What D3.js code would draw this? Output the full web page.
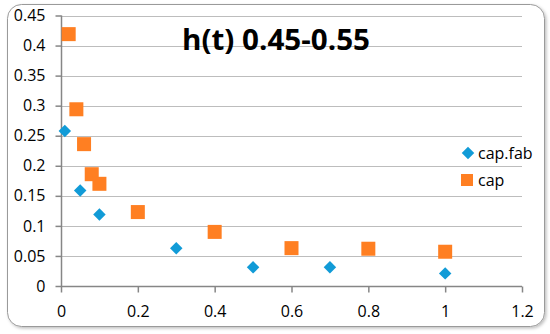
<!DOCTYPE html>
<html>
<head>
<meta charset="utf-8">
<script src="https://cdn.jsdelivr.net/npm/d3@7"></script>
<style>
  body { margin: 0; background: #fff; }
  text { font-family: "Open Sans", sans-serif; }
</style>
</head>
<body>
<div id="chart"></div>
<script>
// values
var fabX = [0.01, 0.05, 0.1, 0.3, 0.5, 0.7, 1.0];
var fabY = [0.258, 0.159, 0.119, 0.063, 0.031, 0.031, 0.021];
var capX = [0.02, 0.04, 0.06, 0.08, 0.1, 0.2, 0.4, 0.6, 0.8, 1.0];
var capY = [0.419, 0.294, 0.236, 0.186, 0.170, 0.123, 0.090, 0.063, 0.062, 0.057];
var xTicks = [0, 0.2, 0.4, 0.6, 0.8, 1, 1.2];
var yTicks = [0, 0.05, 0.1, 0.15, 0.2, 0.25, 0.3, 0.35, 0.4, 0.45];
var seriesNames = ["cap.fab", "cap"];
var title = "h(t) 0.45-0.55";

drawChart();

function drawChart() {
  var svg = d3.select("#chart")
              .append("svg")
              .attr("width", 550)
              .attr("height", 334);

  var blue = "#119bd7", orange = "#ff7f22";

  // outer frame with a soft shadow
  var defs = svg.append("defs");
  var f = defs.append("filter").attr("id", "sh").attr("x", "-5%").attr("y", "-5%")
      .attr("width", "110%").attr("height", "110%");
  f.append("feDropShadow").attr("dx", 1.5).attr("dy", 1.5).attr("stdDeviation", 1.5)
      .attr("flood-color", "#000").attr("flood-opacity", 0.25);

  svg.append("rect")
      .attr("x", 7.5).attr("y", 4.5)
      .attr("width", 537).attr("height", 322)
      .attr("rx", 14).attr("ry", 14)
      .attr("fill", "#fff")
      .attr("stroke", "#9a9a9a")
      .attr("stroke-width", 1)
      .attr("filter", "url(#sh)");

  var x = d3.scaleLinear().domain([0, 1.2]).range([61, 522]),
      y = d3.scaleLinear().domain([0, 0.45]).range([286, 15.5]);

  // gridlines
  svg.append("g")
    .selectAll("line")
    .data(yTicks.slice(1))
    .enter()
    .append("line")
    .attr("x1", x(0)).attr("x2", x(1.2))
    .attr("y1", function(d){ return Math.round(y(d)) + 0.5; })
    .attr("y2", function(d){ return Math.round(y(d)) + 0.5; })
    .attr("stroke", "#bdbdbd")
    .attr("stroke-width", 1);

  // axes
  var yAxis = svg.append("g")
      .attr("transform", "translate(" + (Math.round(x(0)) + 0.5) + ",0)")
      .call(d3.axisLeft(y).tickValues(yTicks).tickSize(6).tickPadding(10)
            .tickFormat(function(d){ return d3.format("")(+d.toFixed(2)); }));
  var xAxis = svg.append("g")
      .attr("transform", "translate(0," + (Math.round(y(0)) + 0.5) + ")")
      .call(d3.axisBottom(x).tickValues(xTicks).tickSize(6).tickPadding(13)
            .tickFormat(function(d){ return d3.format("")(+d.toFixed(1)); }));

  [xAxis, yAxis].forEach(function(a) {
    a.select(".domain").attr("stroke", "#868686").attr("stroke-width", 1.5);
    a.selectAll(".tick line").attr("stroke", "#868686").attr("stroke-width", 1.5);
    a.selectAll(".tick text").attr("fill", "#000").attr("font-size", "16px")
      .style("font-family", "'Open Sans', sans-serif");
  });
  yAxis.select(".domain").attr("d", "M0," + y(0.45) + "V" + (y(0) + 1));
  xAxis.select(".domain").attr("d", "M" + x(0) + ",0H" + x(1.2));

  var diamond = d3.symbol().type(d3.symbolSquare).size(78);

  // cap.fab series
  svg.append("g")
    .selectAll("path")
    .data(fabX.map(function(v, i){ return [v, fabY[i]]; }))
    .enter()
    .append("path")
    .attr("d", diamond)
    .attr("transform", function(d){ return "translate(" + x(d[0]) + "," + y(d[1]) + ") rotate(45)"; })
    .attr("fill", blue);

  // cap series
  var sq = 14;
  svg.append("g")
    .selectAll("rect")
    .data(capX.map(function(v, i){ return [v, capY[i]]; }))
    .enter()
    .append("rect")
    .attr("x", function(d){ return x(d[0]) - sq / 2; })
    .attr("y", function(d){ return y(d[1]) - sq / 2; })
    .attr("width", sq).attr("height", sq)
    .attr("fill", orange);

  // title
  svg.append("text")
    .attr("x", 276).attr("y", 50)
    .attr("text-anchor", "middle")
    .attr("font-size", "29px")
    .attr("font-weight", "bold")
    .attr("textLength", 188)
    .attr("lengthAdjust", "spacingAndGlyphs")
    .text(title);

  // legend
  var leg = svg.append("g");
  leg.append("path")
    .attr("d", diamond)
    .attr("transform", "translate(468,153) rotate(45)")
    .attr("fill", blue);
  leg.append("rect")
    .attr("x", 461).attr("y", 174).attr("width", 12).attr("height", 12)
    .attr("fill", orange);
  leg.selectAll("text")
    .data(seriesNames)
    .enter()
    .append("text")
    .attr("x", 478)
    .attr("y", function(d, i){ return 159 + i * 27; })
    .attr("font-size", "16px")
    .attr("fill", "#000")
    .text(function(d){ return d; });
}
</script>
</body>
</html>
